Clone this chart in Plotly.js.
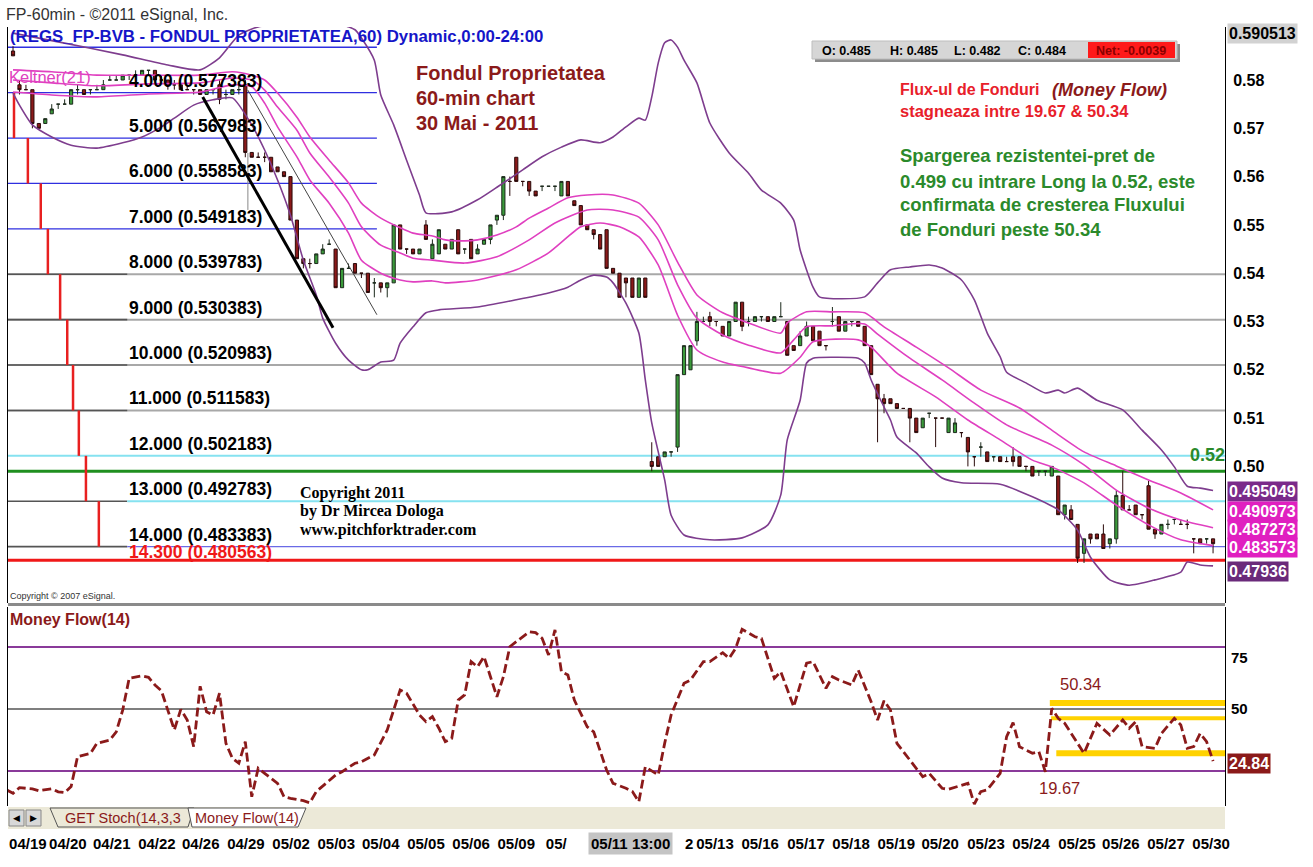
<!DOCTYPE html>
<html><head><meta charset="utf-8">
<script src="https://cdn.plot.ly/plotly-3.0.1.min.js"></script>
<style>html,body{margin:0;padding:0;background:#fff}#chart{width:1313px;height:867px}</style>
</head><body><div id="chart"></div>
<script>
// ---------------- DATA ----------------
const openP  = [.586,.579,.578,.578,.571,.571,.573,.575,.575,.575,.578,.578,.578,.578,.578,.580,.580,.580,.581,.581,.581,.582,.582,.580,.580,.579,.579,.578,.578,.578,.577,.578,.579,.577,.577,.578,.579,.565,.564,.564,.564,.562,.561,.560,.551,.543,.542,.542,.544,.546,.545,.537,.541,.542,.540,.540,.538,.538,.537,.538,.550,.545,.545,.544,.550,.543,.544,.546,.545,.549,.545,.547,.544,.546,.547,.551,.552,.559,.564,.559,.559,.557,.558,.558,.558,.556,.559,.555,.554,.550,.549,.548,.549,.541,.540,.539,.539,.535,.539,.501,.502,.502,.503,.504,.519,.520,.526,.530,.531,.530,.529,.527,.530,.534,.530,.530,.531,.531,.530,.531,.530,.525,.525,.527,.529,.528,.525,.530,.531,.528,.530,.530,.529,.525,.517,.514,.514,.513,.512,.512,.510,.508,.511,.510,.510,.507,.507,.507,.506,.502,.504,.503,.502,.502,.501,.502,.502,.500,.500,.499,.499,.498,.498,.490,.491,.488,.482,.486,.486,.486,.484,.485,.494,.491,.492,.490,.496,.487,.486,.488,.489,.488,.488,.485,.485,.485,.485];
const highP  = [.587,.580,.579,.578,.571,.572,.575,.575,.576,.578,.579,.578,.578,.579,.580,.581,.581,.581,.581,.582,.582,.582,.582,.581,.580,.580,.579,.579,.578,.578,.578,.578,.580,.578,.578,.579,.580,.565,.565,.565,.564,.562,.561,.560,.551,.543,.543,.544,.546,.547,.545,.541,.542,.542,.540,.540,.539,.538,.538,.550,.550,.545,.545,.545,.551,.547,.549,.546,.547,.549,.545,.547,.546,.547,.550,.552,.560,.560,.564,.559,.559,.557,.558,.558,.558,.559,.559,.555,.554,.550,.549,.548,.549,.541,.540,.539,.539,.539,.539,.505,.502,.503,.503,.519,.525,.525,.532,.531,.532,.530,.529,.530,.534,.534,.531,.531,.531,.531,.531,.534,.530,.525,.528,.530,.529,.528,.525,.533,.531,.530,.530,.530,.529,.525,.517,.515,.514,.513,.512,.512,.510,.510,.511,.510,.510,.510,.510,.507,.506,.502,.505,.503,.502,.502,.502,.504,.502,.500,.500,.499,.499,.500,.498,.492,.492,.488,.485,.486,.486,.488,.485,.495,.499,.492,.492,.490,.497,.487,.488,.489,.489,.489,.489,.485,.485,.485,.485];
const lowP   = [.585,.577,.578,.570,.570,.571,.573,.574,.575,.575,.577,.577,.577,.578,.578,.580,.580,.580,.580,.581,.581,.581,.580,.580,.578,.578,.578,.578,.577,.577,.577,.577,.575,.576,.577,.577,.564,.564,.564,.563,.561,.561,.560,.551,.543,.541,.541,.542,.544,.546,.537,.537,.541,.540,.539,.536,.535,.536,.535,.538,.545,.544,.544,.544,.547,.543,.544,.545,.545,.544,.544,.543,.544,.546,.546,.550,.551,.556,.559,.558,.556,.556,.557,.558,.557,.556,.556,.554,.550,.549,.547,.545,.541,.540,.535,.535,.535,.535,.535,.499,.500,.502,.502,.503,.519,.520,.525,.530,.529,.529,.527,.527,.530,.528,.529,.530,.530,.530,.530,.531,.523,.524,.525,.527,.526,.525,.524,.529,.528,.528,.529,.529,.525,.519,.505,.511,.513,.512,.512,.505,.507,.508,.510,.504,.510,.507,.507,.506,.500,.500,.502,.501,.501,.501,.501,.500,.500,.499,.498,.498,.498,.498,.490,.489,.489,.480,.480,.484,.485,.483,.483,.484,.491,.491,.490,.489,.487,.485,.486,.487,.488,.488,.487,.482,.484,.484,.482];
const closeP = [.585,.578,.578,.571,.570,.572,.574,.575,.575,.578,.578,.577,.578,.578,.579,.580,.580,.581,.581,.581,.582,.582,.580,.580,.579,.579,.578,.578,.578,.577,.578,.578,.576,.577,.578,.578,.565,.564,.564,.564,.561,.561,.560,.551,.543,.542,.542,.544,.545,.546,.537,.541,.541,.540,.540,.536,.538,.537,.538,.550,.545,.545,.544,.545,.547,.546,.549,.545,.547,.544,.545,.543,.545,.547,.550,.552,.560,.559,.559,.559,.557,.556,.558,.558,.558,.559,.556,.554,.550,.549,.548,.545,.541,.540,.535,.538,.535,.539,.535,.500,.500,.503,.503,.519,.525,.525,.530,.530,.530,.530,.527,.530,.534,.529,.530,.531,.531,.530,.531,.531,.523,.524,.527,.529,.526,.525,.525,.530,.528,.530,.530,.529,.525,.519,.514,.513,.513,.512,.512,.510,.507,.510,.511,.510,.510,.510,.509,.507,.503,.502,.504,.501,.502,.501,.501,.501,.500,.500,.498,.499,.499,.500,.490,.492,.489,.481,.485,.485,.485,.483,.485,.494,.491,.491,.490,.490,.487,.486,.488,.488,.489,.488,.488,.485,.484,.485,.484];

// Bollinger bands (bar index, price)
const bbUpperIdx = [0,7,17,24,29,32,35,38,44,51,53,54,56,57,59,61,63,64,68,72,75,79,82,85,88,91,93,95,97,98,99,100,101,102,103,104,106,108,111,114,116,119,121,122,124,125,132,134,136,139,142,144,147,149,151,153,154,157,160,162,163,165,168,172,175,178,180,182,184,186];
const bbUpperVal = [0.5897,0.5879,0.5852,0.5831,0.5821,0.5846,0.5893,0.5910,0.5916,0.5914,0.5904,0.5887,0.5841,0.5769,0.5707,0.5634,0.5562,0.5525,0.5527,0.5552,0.5578,0.5614,0.5641,0.5661,0.5676,0.5670,0.5682,0.5703,0.5721,0.5717,0.5765,0.5835,0.5877,0.5883,0.5868,0.5841,0.5794,0.5711,0.5649,0.5607,0.5572,0.5545,0.5510,0.5448,0.5371,0.5351,0.5351,0.5380,0.5407,0.5413,0.5417,0.5411,0.5386,0.5345,0.5276,0.5227,0.5195,0.5173,0.5152,0.5158,0.5152,0.5162,0.5137,0.5117,0.5075,0.5034,0.4999,0.4959,0.4955,0.4950];
const bbLowerIdx = [0,1,3,6,9,13,17,20,23,25,28,31,34,37,39,41,43,45,47,48,50,52,54,55,57,59,60,62,64,66,72,78,83,86,88,90,92,93,95,97,98,99,101,102,104,108,113,117,119,120,122,123,124,127,131,132,133,135,136,137,140,142,144,147,153,158,162,165,167,170,173,177,181,182,184,186];
const bbLowerVal = [0.5773,0.5748,0.5707,0.5682,0.5665,0.5659,0.5670,0.5682,0.5703,0.5721,0.5748,0.5759,0.5763,0.5707,0.5655,0.5593,0.5520,0.5427,0.5355,0.5307,0.5255,0.5220,0.5200,0.5200,0.5216,0.5220,0.5255,0.5289,0.5318,0.5324,0.5330,0.5345,0.5359,0.5371,0.5386,0.5396,0.5392,0.5380,0.5338,0.5276,0.5179,0.5090,0.4972,0.4899,0.4858,0.4848,0.4852,0.4879,0.4941,0.5055,0.5137,0.5214,0.5224,0.5226,0.5224,0.5214,0.5179,0.5123,0.5096,0.5061,0.5028,0.4999,0.4976,0.4966,0.4963,0.4937,0.4910,0.4868,0.4812,0.4765,0.4754,0.4765,0.4781,0.4802,0.4796,0.4794];

// Keltner(21) bands
const kUpIdx  = [0,6,13,21,29,34,37,39,41,44,46,49,52,54,57,60,62,65,67,70,72,75,78,80,83,86,89,93,97,100,103,106,110,114,119,120,123,127,132,135,140,145,150,156,161,166,171,176,181,186];
const kUpVal  = [0.5821,0.5817,0.5810,0.5810,0.5810,0.5817,0.5810,0.5800,0.5773,0.5723,0.5682,0.5634,0.5587,0.5545,0.5514,0.5494,0.5483,0.5477,0.5469,0.5467,0.5469,0.5479,0.5496,0.5514,0.5535,0.5556,0.5562,0.5562,0.5545,0.5500,0.5423,0.5355,0.5318,0.5297,0.5276,0.5297,0.5320,0.5320,0.5318,0.5289,0.5247,0.5204,0.5158,0.5121,0.5075,0.5030,0.5001,0.4972,0.4945,0.4910];
const kMidIdx = [0,6,13,21,29,34,37,39,41,44,46,49,52,54,57,60,62,65,70,75,80,84,89,93,97,100,103,106,110,114,119,121,123,127,132,134,139,144,149,154,161,166,171,176,181,186];
const kMidVal = [0.5800,0.5794,0.5788,0.5792,0.5794,0.5804,0.5800,0.5779,0.5744,0.5696,0.5649,0.5599,0.5545,0.5496,0.5458,0.5442,0.5431,0.5427,0.5421,0.5434,0.5469,0.5504,0.5531,0.5531,0.5516,0.5469,0.5376,0.5307,0.5272,0.5251,0.5235,0.5262,0.5289,0.5291,0.5295,0.5274,0.5224,0.5179,0.5131,0.5086,0.5044,0.5003,0.4951,0.4914,0.4889,0.4873];
const kLowIdx = [0,6,13,21,29,34,37,39,41,44,46,49,52,54,57,60,62,65,67,72,78,83,88,91,94,97,100,103,106,110,114,119,122,124,131,133,137,143,148,153,158,161,166,171,176,181,186];
const kLowVal = [0.5775,0.5769,0.5765,0.5771,0.5775,0.5790,0.5786,0.5752,0.5703,0.5641,0.5593,0.5545,0.5483,0.5427,0.5400,0.5386,0.5382,0.5384,0.5380,0.5386,0.5407,0.5442,0.5496,0.5504,0.5496,0.5475,0.5417,0.5313,0.5241,0.5216,0.5204,0.5193,0.5226,0.5258,0.5262,0.5247,0.5193,0.5144,0.5096,0.5055,0.5013,0.4999,0.4966,0.4920,0.4879,0.4848,0.4836];

// Money Flow(14)
const mfIdx = [-1,0,1,3,4,6,7,8,9,10,12,13,15,16,17,18,20,21,22,23,25,26,27,28,29,30,31,32,33,34,35,36,37,38,39,41,42,43,45,46,47,49,50,51,53,54,56,58,60,61,63,64,65,66,67,68,69,70,71,72,73,74,75,76,77,78,80,81,82,83,84,85,86,87,89,90,92,93,95,96,97,98,99,100,101,102,104,105,107,108,110,111,112,113,115,116,118,119,121,123,124,126,127,128,130,131,133,134,135,136,137,138,140,141,142,144,145,148,149,150,151,153,154,155,156,157,158,159,160,161,162,163,166,168,170,172,173,174,175,177,178,180,181,182,183,184,185,186];
const mfVal = [10.9,9.3,12,11.4,10.5,11.5,10,9.6,12.5,27,28.6,33.4,35,39,49.5,64.8,66,65.3,61.6,58.8,39.9,49.8,44.7,31.8,61,48.7,47.1,57.6,33.4,26.2,23.8,34.2,7.6,21.4,18.9,14.1,7.6,6.8,5.7,4.7,10.1,15.7,18.1,19.7,23.8,24.5,27.8,39.9,59.2,57.6,47.1,43.9,46.3,40.7,34.2,35.8,54.3,56.8,72.9,70.4,75.3,65.6,55.9,65.6,80.1,82.5,87.3,86.9,84.2,76.1,88.2,68,66.4,54.3,41.4,39,20.5,14.1,11.7,10.1,5.2,22.1,20,18.1,33.4,47.1,62.4,64,72.9,72.9,77.2,74.5,79.3,88.5,84.9,84.1,64.8,68,51.1,72.1,72.9,60,65.6,64,61.6,68.8,53.5,44.7,54,49.5,33.4,29.4,21.4,17.3,18.9,11.7,11.2,14.1,4.1,10.1,10.9,18.9,36.6,43.4,31.8,30.2,28.6,29.4,19.67,50.34,45.5,43.1,28.6,43.1,37.4,44.7,40.7,43.9,31.8,31,38.2,45.5,42.3,31,31.8,38.2,34.2,24.84];

// Fibonacci-type time/price levels
const fibLevels = [0.586783,0.577383,0.567983,0.558583,0.549183,0.539783,0.530383,0.520983,0.511583,0.502183,0.492783,0.483383,0.480563];
const fibNames  = ['3.000','4.000','5.000','6.000','7.000','8.000','9.000','10.000','11.000','12.000','13.000','14.000','14.300'];
const stepIdx   = [0.15,2.3,4.3,5.4,7.3,8.4,9.3,10.2,11.3,13.3];
const breakoutLevel = 0.499;
const trendThick = {x:[29.4,49.6], y:[0.5765,0.5287]};
const trendThin  = {x:[36.4,56.4], y:[0.5779,0.5314]};
const mfBands = [{start:160.7, v:52.9},{start:160.9, v:45.5},{start:161.7, v:28.6}];

const dateTickIdx  = [2.3,8.5,15.3,22.3,29.1,36.1,43.1,50.1,57.0,64.0,71.0,78.0,84.2,104.8,108.8,115.8,122.9,129.9,136.9,143.7,150.8,157.8,164.9,171.7,178.7,185.7];
const dateTickText = ['04/19','04/20','04/21','04/22','04/26','04/29','05/02','05/03','05/04','05/05','05/06','05/09','05/','2','05/13','05/16','05/17','05/18','05/19','05/20','05/23','05/24','05/25','05/26','05/27','05/30'];
const priceTicks = [0.50,0.51,0.52,0.53,0.54,0.55,0.56,0.57,0.58];
const mfTicks = [75,50];

// ---------------- LAYOUT HELPERS ----------------
const W=1313,H=867,ML=8,MR=88,MT=27,MB=61;
const PW=W-ML-MR, PH=H-MT-MB;
const px = v => (v-ML)/PW;
const py = v => (H-MB-v)/PH;
const FONT='Liberation Sans, Arial, Helvetica, sans-serif';
const SERIF='Liberation Serif, Times New Roman, serif';
const XR=[-0.78,187.85];
const bars = openP.map((_,i)=>i);

const BB='#7E3D8E', KC='#E040C0', DR='#8B1A1A';

const traces = [];
const band = (x,y,c,w) => traces.push({type:'scatter',mode:'lines',x,y,xaxis:'x',yaxis:'y',
  line:{color:c,width:w,shape:'spline',smoothing:0.6},hoverinfo:'skip',showlegend:false});
band(bbUpperIdx,bbUpperVal,BB,1.6);
band(bbLowerIdx,bbLowerVal,BB,1.6);
band(kUpIdx,kUpVal,KC,1.6);
band(kMidIdx,kMidVal,KC,1.6);
band(kLowIdx,kLowVal,KC,1.6);

traces.push({type:'candlestick',x:bars,open:openP,high:highP,low:lowP,close:closeP,
  xaxis:'x',yaxis:'y',whiskerwidth:0,
  increasing:{line:{color:'#1c2a1c',width:1},fillcolor:'#3a9a3a'},
  decreasing:{line:{color:'#2a0a0a',width:1},fillcolor:'#8b1a1a'},
  hoverinfo:'skip',showlegend:false});

traces.push({type:'scatter',mode:'lines',x:mfIdx,y:mfVal,xaxis:'x2',yaxis:'y2',
  line:{color:DR,width:2.8,dash:'9px,4px'},hoverinfo:'skip',showlegend:false});

// ---------------- SHAPES ----------------
const shapes=[];
const seg=(x0,x1,y0,y1,color,width,extra)=>shapes.push(Object.assign({type:'line',xref:'x',yref:'y',x0,x1,y0,y1,line:{color,width},layer:'below'},extra||{}));
const SHORT=17.7, BLUEEND=56.4;
fibLevels.forEach((lv,k)=>{
  if(k<=4){ seg(XR[0],BLUEEND,lv,lv,'#2f2fe0',1.3); }
  else if(k<=8){ seg(XR[0],XR[1],lv,lv,'#a8a8a8',2); seg(XR[0],SHORT,lv,lv,'#555',1.6); }
  else if(k===9){ seg(XR[0],XR[1],lv,lv,'#86e2f0',2); }
  else if(k===10){ seg(XR[0],SHORT,lv,lv,'#555',1.6); seg(SHORT,XR[1],lv,lv,'#86e2f0',2); }
  else if(k===11){ seg(XR[0],SHORT,lv,lv,'#555',1.6); seg(SHORT,XR[1],lv,lv,'#6a6ae6',1.3); }
  else { seg(XR[0],XR[1],lv,lv,'#f01818',3); }
});
seg(XR[0],XR[1],breakoutLevel,breakoutLevel,'#1f8f1f',3);
stepIdx.forEach((x,s)=>seg(x,x,fibLevels[s+1],fibLevels[s+2],'#e82020',2.5));
seg(trendThick.x[0],trendThick.x[1],trendThick.y[0],trendThick.y[1],'#000',3,{layer:'above'});
seg(trendThin.x[0],trendThin.x[1],trendThin.y[0],trendThin.y[1],'#444',1,{layer:'above'});
seg(trendThin.x[0],trendThin.x[0],0.5649,0.5531,'#888',1);

// money-flow panel reference lines
const mfl=(v,c,w)=>shapes.push({type:'line',xref:'paper',yref:'y2',x0:0,x1:1,y0:v,y1:v,line:{color:c,width:w},layer:'below'});
mfl(80,'#8a3a9a',2); mfl(20,'#8a3a9a',2); mfl(50,'#555',1.5);
mfBands.forEach((b,i)=>shapes.push({type:'line',xref:'x2',yref:'y2',x0:b.start,x1:XR[1],y0:b.v,y1:b.v,
  line:{color:'#ffd200',width:i===1?4:6},layer:'below'}));

// panel separator, tab bar, info box
const rect=(x0,y0,x1,y1,fill,line,lw,layer)=>shapes.push({type:'rect',xref:'paper',yref:'paper',
  x0:px(x0),x1:px(x1),y0:py(y1),y1:py(y0),fillcolor:fill,line:{color:line||fill,width:lw||0},layer:layer||'above'});
rect(8,603,1225,606,'#8a8a8a');
rect(8,807,1225,829,'#ece9d8');
rect(9,810,24,826,'#d8d8d8','#888',1);
rect(26,810,41,826,'#d8d8d8','#888',1);
const path=(pts,fill,line)=>shapes.push({type:'path',xref:'paper',yref:'paper',
  path:'M '+pts.map(p=>px(p[0])+','+py(p[1])).join(' L ')+(fill?' Z':''),
  fillcolor:fill||'rgba(0,0,0,0)',line:{color:line,width:1},layer:'above'});
path([[50,808],[58,827],[188,827],[194,808]],'#ece9d8','#555');
path([[188,808],[192,827],[298,827],[306,808]],'#ffffff','#555');
rect(815,44,1180,62,'#8c8c8c');
rect(812,41,1177,59,'#d6d6d6','#bdbdbd',1);
rect(1088,42,1175,58,'#ff1a1a');

// ---------------- ANNOTATIONS ----------------
const ann=[];
const T=(x,y,text,o)=>ann.push(Object.assign({xref:'paper',yref:'paper',x:px(x),y:py(y),text,showarrow:false,
  xanchor:'left',yanchor:'middle',font:{family:FONT,size:14,color:'#000'}},o||{}));
T(4,15,'FP-60min - ©2011 eSignal, Inc.',{font:{family:FONT,size:16,color:'#333'}});
T(8,36,'(REGS_FP-BVB - FONDUL PROPRIETATEA,60) Dynamic,0:00-24:00',{font:{family:FONT,size:16.8,color:'#1515c8',weight:'bold'}});
T(7,77,'Keltner(21)',{font:{family:FONT,size:16.5,color:'#e040c0'}});
fibLevels.forEach((lv,k)=>{ if(k===0) return;
  const red=k===12;
  ann.push({xref:'paper',yref:'y',x:px(127),y:lv,yshift:red?8:12,xanchor:'left',yanchor:'middle',showarrow:false,
    text:fibNames[k]+' ('+lv.toFixed(6)+')',font:{family:FONT,size:17.5,weight:'bold',color:red?'#f01818':'#000'}});
});
const RED={family:FONT,size:20,color:DR,weight:'bold'};
T(414,73,'Fondul Proprietatea',{font:RED});
T(414,98,'60-min chart',{font:RED});
T(414,123,'30 Mai - 2011',{font:RED});
const IB={family:FONT,size:12.5,color:'#000',weight:'bold'};
T(820,51,'O: 0.485',{font:IB}); T(888,51,'H: 0.485',{font:IB});
T(952,51,'L: 0.482',{font:IB}); T(1016,51,'C: 0.484',{font:IB});
T(1094,51,'Net: -0.0039',{font:{family:FONT,size:12.5,color:'#8b0000',weight:'bold'}});
T(898,90,'Flux-ul de Fonduri',{font:{family:FONT,size:16,color:'#e8202a',weight:'bold'}});
T(1050,90,'(Money Flow)',{font:{family:FONT,size:18,color:DR,weight:'bold',style:'italic'}});
T(898,111,'stagneaza intre 19.67 & 50.34',{font:{family:FONT,size:16.5,color:'#e8202a',weight:'bold'}});
const GR={family:FONT,size:18.5,color:'#2b8a2b',weight:'bold'};
T(898,156,'Spargerea rezistentei-pret de',{font:GR});
T(898,181,'0.499 cu intrare Long la 0.52, este',{font:GR});
T(898,205,'confirmata de cresterea Fluxului',{font:GR});
T(898,229,'de Fonduri peste 50.34',{font:GR});
T(1188,455,'0.52',{font:{family:FONT,size:18,color:'#2b8a2b',weight:'bold'}});
const CP={family:SERIF,size:16,color:'#000',weight:'bold'};
T(298,493,'Copyright 2011',{font:CP});
T(298,511,'by Dr Mircea Dologa',{font:CP});
T(298,530,'www.pitchforktrader.com',{font:CP});
T(8,596,'Copyright © 2007 eSignal.',{font:{family:FONT,size:9,color:'#333'}});
T(8,619,'Money Flow(14)',{font:{family:FONT,size:16,color:DR,weight:'bold'}});
T(1058,684,'50.34',{font:{family:FONT,size:16.5,color:DR}});
T(1037,788,'19.67',{font:{family:FONT,size:16.5,color:DR}});
// right-side value boxes
const BOX=(y,text,bg,fc)=>T(1227,y,text,{bgcolor:bg,borderpad:1,font:{family:FONT,size:16,color:fc||'#fff',weight:'bold'}});
BOX(33,'0.590513','#d2d2d2','#000');
BOX(491,'0.495049','#7a2a8a');
BOX(511,'0.490973','#e020c0');
BOX(529,'0.487273','#e020c0');
BOX(547,'0.483573','#e020c0');
BOX(571,'0.47936','#6a2a7a');
BOX(763,'24.84','#8b1a1a');
// tab bar texts
T(11,818,'◀',{font:{family:'DejaVu Sans',size:9,color:'#000'}});
T(28,818,'▶',{font:{family:'DejaVu Sans',size:9,color:'#000'}});
T(63,818,'GET Stoch(14,3,3',{font:{family:FONT,size:14.5,color:DR}});
T(193,818,'Money Flow(14)',{font:{family:FONT,size:14.5,color:DR}});
// cursor date box
T(588,843,'05/11 13:00',{bgcolor:'#c4c4c4',borderpad:2,font:{family:FONT,size:15,color:'#000',weight:'bold'}});

// ---------------- LAYOUT ----------------
const layout={
  width:W,height:H,margin:{l:ML,r:MR,t:MT,b:MB},paper_bgcolor:'#fff',plot_bgcolor:'#fff',
  showlegend:false,hovermode:false,dragmode:false,
  xaxis:{domain:[0,1],range:XR,anchor:'y',showticklabels:false,showgrid:false,zeroline:false,
    rangeslider:{visible:false},ticks:''},
  yaxis:{domain:[py(603),1],range:[0.58-(603-80)/4830,0.58+(80-MT)/4830],side:'right',
    tickvals:priceTicks,ticktext:priceTicks.map(v=>v.toFixed(2)),ticks:'',ticklabelstandoff:4,
    tickfont:{family:FONT,size:16,color:'#000',weight:'bold'},showgrid:false,zeroline:false,
    showline:true,linecolor:'#000',linewidth:1,mirror:true},
  xaxis2:{domain:[0,1],range:XR,anchor:'y2',matches:'x',showgrid:false,zeroline:false,ticks:'',
    tickvals:dateTickIdx,ticktext:dateTickText,tickangle:0,ticklabelstandoff:27,
    tickfont:{family:FONT,size:15,color:'#000',weight:'bold'}},
  yaxis2:{domain:[0,py(607)],range:[50-(806-709)/2.07,50+(709-607)/2.07],side:'right',
    tickvals:mfTicks,ticks:'',ticklabelstandoff:2,showgrid:false,zeroline:false,
    tickfont:{family:FONT,size:15,color:'#000',weight:'bold'},
    showline:true,linecolor:'#000',linewidth:1,mirror:true},
  shapes,annotations:ann
};
Plotly.newPlot('chart',traces,layout,{displayModeBar:false,staticPlot:true});
</script></body></html>
